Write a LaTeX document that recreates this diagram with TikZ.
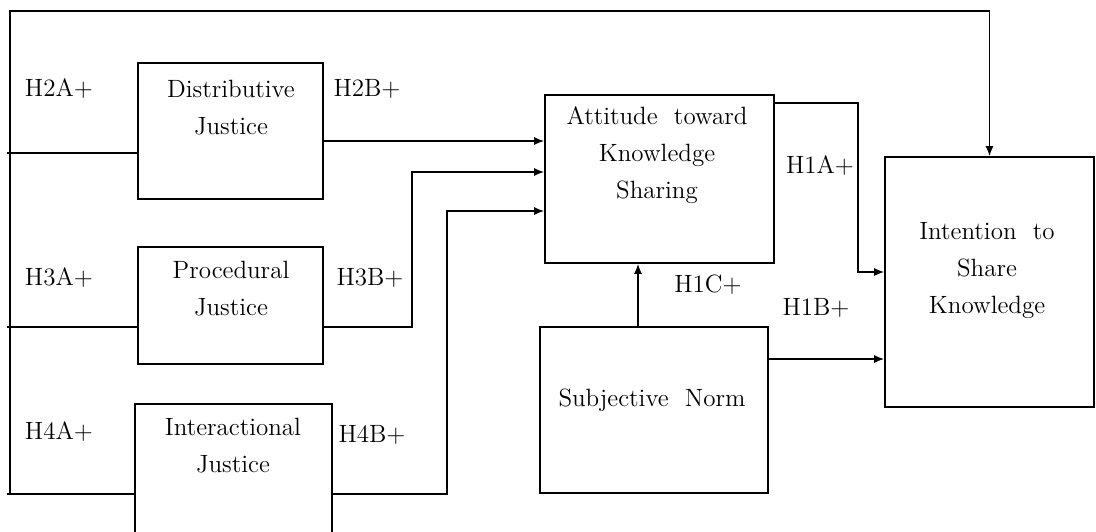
\documentclass[tikz,border=0pt]{standalone}
\usepackage{tikz}
\usetikzlibrary{arrows.meta}

\begin{document}
\begin{tikzpicture}[x=0.5pt,y=-0.5pt,line width=0.8pt,
  >={Latex[length=5pt,width=4pt]},
  every node/.style={font=\fontsize{12.5}{18.5}\selectfont},
  box/.style={draw,rectangle,inner sep=0pt},
  txt/.style={align=center,inner sep=0pt},
  hyp/.style={inner sep=0pt}]
\useasboundingbox (0,0) rectangle (1096,531);

% boxes
\node[box,minimum width=92.5pt,minimum height=68pt] (dist) at (230.5,131) {};
\node[box,minimum width=92.5pt,minimum height=58.5pt] (proc) at (230.5,305.5) {};
\node[box,minimum width=98.5pt,minimum height=78pt] (inter) at (233.5,482) {};
\node[box,minimum width=114.5pt,minimum height=84pt] (att) at (659.5,179) {};
\node[box,minimum width=114pt,minimum height=83pt] (subj) at (654,410) {};
\node[box,minimum width=104.5pt,minimum height=125pt] (intent) at (989.5,282) {};

% box texts
\node[txt] (distT) at (231,108) {Distributive\\Justice};
\node[txt] (procT) at (231,289) {Procedural\\Justice};
\node[txt] (interT) at (233,446) {Interactional\\Justice};
\node[txt] (attT) at (657,155) {Attitude\ \ toward\\Knowledge\\Sharing};
\node[txt] (subjT) at (652,400) {Subjective\ \ Norm};
\node[txt] (intentT) at (987,271) {Intention\ \ to\\Share\\Knowledge};

% hypotheses
\node[hyp] (h2a) at (59,89) {H2A+};
\node[hyp] (h2b) at (367,89) {H2B+};
\node[hyp] (h3a) at (59,278) {H3A+};
\node[hyp] (h3b) at (370,278) {H3B+};
\node[hyp] (h4a) at (59,432) {H4A+};
\node[hyp] (h4b) at (372,435) {H4B+};
\node[hyp] (h1a) at (820,166) {H1A+};
\node[hyp] (h1c) at (708,285) {H1C+};
\node[hyp] (h1b) at (816,308) {H1B+};

% feedback frame on the left
\coordinate (tl) at (10,11);
\coordinate (bl) at (10,494);
\coordinate (j2) at (7,153);
\coordinate (j3) at (7,327);
\coordinate (j4) at (7,494);
\draw[->] (bl) -- (tl) -| (intent.north);
\draw (j2) -- (j2 -| dist.west);
\draw (j3) -- (j3 -| proc.west);
\draw (j4) -- (j4 -| inter.west);

% justice -> attitude
\draw[->] ([yshift=-5pt]dist.east) -- ([yshift=-5pt]dist.east -| att.west);
\draw[->] ([yshift=-10.75pt]proc.east) -- ++(88,0) |- ([yshift=3.5pt]att.west);
\draw[->] ([yshift=-6pt]inter.east) -- ++(114,0) |- ([yshift=-16pt]att.west);

% attitude, norm -> intention
\draw[->] ([yshift=38pt]att.east) -- ++(83,0) |- ([yshift=5pt]intent.west);
\draw[->] ([xshift=-8pt]subj.north) -- ([xshift=-8pt]subj.north |- att.south);
\draw[->] ([yshift=25.5pt]subj.east) -- ([yshift=25.5pt]subj.east -| intent.west);
\end{tikzpicture}
\end{document}
